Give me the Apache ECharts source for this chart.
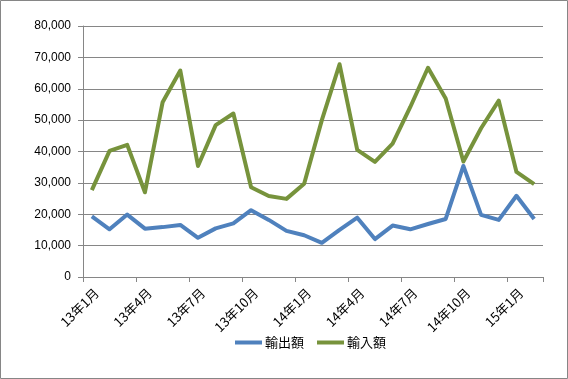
<!DOCTYPE html>
<html><head><meta charset="utf-8">
<script src="https://cdn.jsdelivr.net/npm/echarts@6/dist/echarts.min.js"></script>
<style>html,body{margin:0;padding:0;background:#fff}#c{width:568px;height:379px}</style>
</head><body><div id="c"></div>
<script>
var categories = ['13年1月','13年2月','13年3月','13年4月','13年5月','13年6月','13年7月','13年8月','13年9月','13年10月','13年11月','13年12月','14年1月','14年2月','14年3月','14年4月','14年5月','14年6月','14年7月','14年8月','14年9月','14年10月','14年11月','14年12月','15年1月','15年2月'];
var exportValues = [19300,15200,19900,15400,15900,16600,12500,15500,17100,21300,18200,14700,13300,10900,15000,18900,12100,16400,15200,16900,18500,35400,19800,18200,25900,18500];
var importValues = [27700,40200,42100,27000,55700,65800,35400,48400,52100,28600,25800,24900,29700,50000,67800,40500,36700,42500,54200,66700,56900,36800,47400,56200,33500,29600];
var seriesNames = ['輸出額','輸入額'];
var yMin = 0, yMax = 80000, yStep = 10000;

var chart = echarts.init(document.getElementById('c'), null, {renderer:'canvas'});
var gray = '#868686';
chart.setOption({
  animation:false,
  backgroundColor:'#fff',
  graphic:[{type:'rect',shape:{x:0.5,y:0.5,width:567,height:378},style:{fill:null,stroke:gray,lineWidth:1},silent:true}],
  grid:{left:83,right:25,top:26,bottom:102,containLabel:false},
  legend:{
    data:seriesNames, left:235, top:336, padding:0, icon:'rect', itemWidth:27, itemHeight:4, itemGap:13,
    textStyle:{fontFamily:'"Noto Sans CJK JP"',fontSize:13,color:'#000',padding:[0,0,0,-2]}
  },
  xAxis:{
    type:'category', data:categories, boundaryGap:true,
    axisLine:{lineStyle:{color:gray,width:1}},
    axisTick:{show:true,interval:2,length:5,lineStyle:{color:gray}},
    axisLabel:{interval:2,rotate:45,margin:9,verticalAlign:'top',color:'#000',fontSize:13,fontFamily:'"Noto Sans CJK JP"'},
    splitLine:{show:false}
  },
  yAxis:{
    type:'value', min:yMin, max:yMax, interval:yStep,
    axisLine:{show:true,lineStyle:{color:gray,width:1}},
    axisTick:{show:true,length:5,lineStyle:{color:gray}},
    axisLabel:{margin:12,color:'#000',fontSize:12,fontFamily:'"Liberation Sans", Arial',formatter:function(v){return v.toLocaleString('en-US');}},
    splitLine:{show:true,lineStyle:{color:gray,width:1}}
  },
  series:[
    {name:seriesNames[0],type:'line',data:exportValues,showSymbol:false,symbol:'none',lineStyle:{width:4,color:'#4F81BD',join:'round'},itemStyle:{color:'#4F81BD'}},
    {name:seriesNames[1],type:'line',data:importValues,showSymbol:false,symbol:'none',lineStyle:{width:4,color:'#77933C',join:'round'},itemStyle:{color:'#77933C'}}
  ]
});
</script></body></html>
